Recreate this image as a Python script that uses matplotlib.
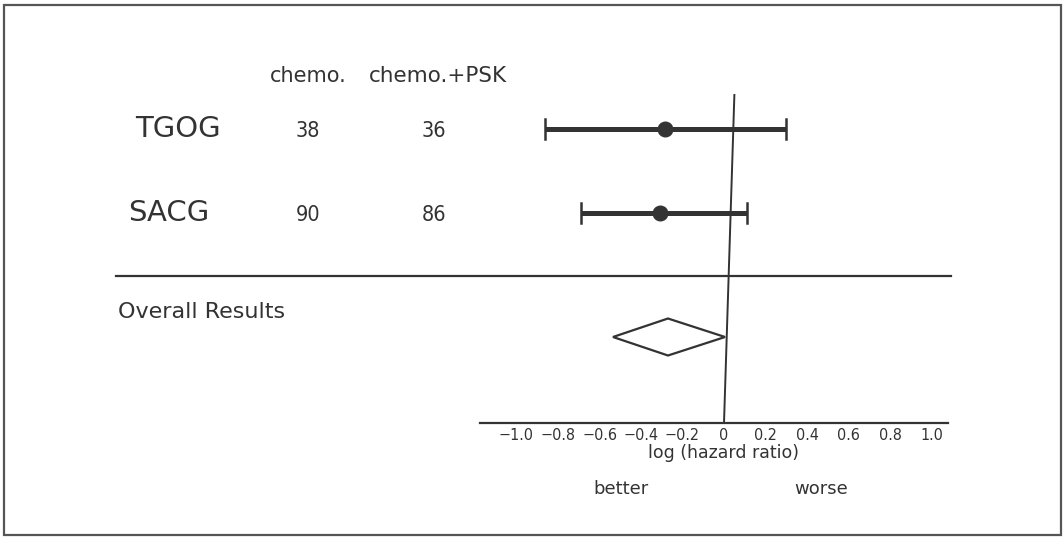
import matplotlib
matplotlib.use("Agg")
import matplotlib.pyplot as plt
from matplotlib.patches import Polygon, Rectangle

# Trial data
studies = ["TGOG", "SACG"]
n_chemo = [38, 90]
n_chemo_psk = [36, 86]
log_hr = [-0.285, -0.31]
ci_low = [-0.865, -0.69]
ci_high = [0.30, 0.11]

# Pooled estimate
overall_est = -0.27
overall_low = -0.535
overall_high = 0.005

tick_values = [-1.0, -0.8, -0.6, -0.4, -0.2, 0.0, 0.2, 0.4, 0.6, 0.8, 1.0]
tick_labels = ["\u22121.0", "\u22120.8", "\u22120.6", "\u22120.4", "\u22120.2",
               "0", "0.2", "0.4", "0.6", "0.8", "1.0"]

INK = "#333333"
W, H = 1064, 542
X0_PX = 724.0        # pixel column of log HR = 0
PX_PER_UNIT = 207.5  # pixels per unit of log HR

fig = plt.figure(figsize=(W / 100, H / 100), dpi=100)
ax = fig.add_axes([0, 0, 1, 1])
ax.set_xlim(-X0_PX / PX_PER_UNIT, (W - X0_PX) / PX_PER_UNIT)
ax.set_ylim(H, 0)
ax.axis("off")


def px(x):
    """Convert a horizontal pixel position to log-HR units."""
    return (x - X0_PX) / PX_PER_UNIT


main_font = "DejaVu Sans"
narrow = dict(family="DejaVu Sans", fontstretch="condensed")

# outer frame
ax.add_patch(Rectangle((px(4), 5), (1061 - 4) / PX_PER_UNIT, 535 - 5,
                       fill=False, ec="#555555", lw=1.6, zorder=1))

# column headers
ax.text(px(270), 76, "chemo.", ha="left", va="center", fontsize=15,
        family=main_font, color=INK)
ax.text(px(369), 76, "chemo.+PSK", ha="left", va="center", fontsize=15.5,
        family=main_font, color=INK)

row_y = [129, 213]
name_x = [135, 128]
for i, name in enumerate(studies):
    y = row_y[i]
    ax.text(px(name_x[i]), y, name, ha="left", va="center", fontsize=21,
            family=main_font, color=INK)
    ax.text(px(308), y + 2, str(n_chemo[i]), ha="center", va="center",
            fontsize=15.5, color=INK, **narrow)
    ax.text(px(434), y + 2, str(n_chemo_psk[i]), ha="center", va="center",
            fontsize=15.5, color=INK, **narrow)
    # confidence interval with end caps
    ax.plot([ci_low[i], ci_high[i]], [y, y], color=INK, lw=3.6,
            solid_capstyle="butt", zorder=3)
    for xc in (ci_low[i], ci_high[i]):
        ax.plot([xc, xc], [y - 10, y + 10], color=INK, lw=1.8, zorder=3)
    ax.plot(log_hr[i], y, "o", ms=10.5, color=INK, zorder=4)

# separator
ax.plot([px(116), px(951)], [276, 276], color=INK, lw=1.6)
ax.text(px(118), 312, "Overall Results", ha="left", va="center",
        fontsize=16, family=main_font, color=INK)

# pooled diamond
dy = 337
half_h = 18.5
diamond = Polygon([(overall_low, dy), (overall_est, dy - half_h),
                   (overall_high, dy), (overall_est, dy + half_h)],
                  closed=True, fill=False, ec=INK, lw=1.6, zorder=3)
ax.add_patch(diamond)

# line of no effect
ax.plot([0.05, 0.0], [95, 423], color=INK, lw=1.4, zorder=2)

# horizontal scale
axis_y = 423
ax.plot([px(480), px(948)], [axis_y, axis_y], color=INK, lw=1.6)
for v, lab in zip(tick_values, tick_labels):
    ax.text(v, 436, lab, ha="center", va="center", fontsize=11.5,
            color=INK, **narrow)
ax.text(0.0, 453, "log (hazard ratio)", ha="center", va="center",
        fontsize=12.5, family=main_font, color=INK)
ax.text(px(621), 489, "better", ha="center", va="center", fontsize=13,
        family=main_font, color=INK)
ax.text(px(821), 489, "worse", ha="center", va="center", fontsize=13,
        family=main_font, color=INK)

fig.savefig("out.png", dpi=100, facecolor="white")
